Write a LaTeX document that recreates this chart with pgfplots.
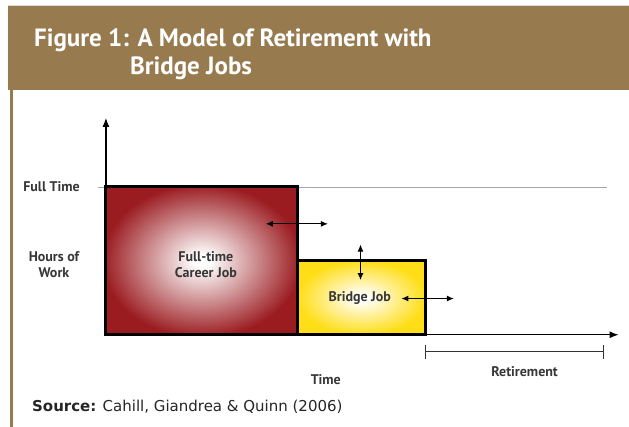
\documentclass[border=0pt]{standalone}
\usepackage{pgfplots}
\pgfplotsset{compat=1.18}
\usepackage{fontspec}
\setmainfont{PT Sans}
\newfontfamily\sourcefont{DejaVu Sans}
\usetikzlibrary{arrows.meta}

\definecolor{band}{RGB}{151,123,79}
\definecolor{career}{RGB}{154,27,32}
\definecolor{bridge}{RGB}{255,222,23}
\definecolor{ink}{RGB}{55,55,55}

% white glow in the middle of each job block
\pgfdeclareradialshading{careerglow}{\pgfpoint{0bp}{0bp}}{color(0bp)=(white); color(2bp)=(white); color(26bp)=(career); color(50bp)=(career)}
\pgfdeclareradialshading{bridgeglow}{\pgfpoint{0bp}{0bp}}{color(0bp)=(white); color(2bp)=(white); color(25bp)=(bridge); color(50bp)=(bridge)}

\begin{document}
\begin{tikzpicture}[x=1pt,y=1pt]
% frame: header band and left rule
\fill[white] (0,0) rectangle (629,427);
\fill[band] (8,337) rectangle (629,421);
\draw[gray!30, line width=0.8pt] (8,422) -- (629,422);
\fill[band] (10.5,0) rectangle (13.5,337);
\node[anchor=base west, text=white, inner sep=0pt, font=\bfseries\fontsize{25}{30}\selectfont] at (34,380) {Figure 1: A Model of Retirement with};
\node[anchor=base west, text=white, inner sep=0pt, font=\bfseries\fontsize{25}{30}\selectfont] at (130,352) {Bridge Jobs};

\begin{axis}[
    at={(106pt,92pt)}, anchor=south west,
    scale only axis, width=513pt, height=217pt,
    xmin=0, xmax=8.0156, ymin=0, ymax=1.466,
    axis lines=left,
    axis line style={line width=1.2pt, -{Latex[length=9pt,width=7pt]}},
    xtick=\empty, ytick=\empty,
    clip=false,
]
% full-time reference line
\addplot[gray!70, line width=0.6pt] coordinates {(-0.125,1) (7.84,1)};

% career job: full hours until t=3
\addplot[draw=black, line width=3pt, line join=miter, shade, shading=careerglow]
    coordinates {(0,0) (0,1) (3,1) (3,0)} \closedcycle;
% bridge job: half hours from t=3 to t=5
\addplot[draw=black, line width=3pt, line join=miter, shade, shading=bridgeglow]
    coordinates {(3,0) (3,0.5) (5,0.5) (5,0)} \closedcycle;

% flexibility arrows
\draw[{Latex[length=7pt,width=6pt]}-{Latex[length=7pt,width=6pt]}, line width=1pt]
    (axis cs:2.5,0.75) -- (axis cs:3.47,0.75);
\draw[{Latex[length=7pt,width=6pt]}-{Latex[length=7pt,width=6pt]}, line width=1pt]
    (axis cs:3.98,0.61) -- (axis cs:3.98,0.37);
\draw[{Latex[length=7pt,width=6pt]}-{Latex[length=7pt,width=6pt]}, line width=1pt]
    (axis cs:4.62,0.245) -- (axis cs:5.44,0.245);

% retirement span
\draw[line width=0.8pt, black!80] (axis cs:5,-0.113) -- (axis cs:7.77,-0.113);
\draw[line width=0.8pt, black!80] (axis cs:5,-0.068) -- (axis cs:5,-0.162);
\draw[line width=0.8pt, black!80] (axis cs:7.77,-0.068) -- (axis cs:7.77,-0.162);
\end{axis}

\begin{scope}[every node/.style={text=ink, font=\bfseries\fontsize{14}{16.5}\selectfont, align=center, inner sep=0pt}]
\node[anchor=east] at (80,240) {Full Time};
\node at (54,162) {Hours of\\Work};
\node at (206,162) {Full-time\\Career Job};
\node at (360,129) {Bridge Job};
\node at (326,47) {Time};
\node at (525,55) {Retirement};
\end{scope}
\node[anchor=base west, inner sep=0pt, text=black!85, font=\sourcefont\fontsize{15}{18}\selectfont] at (32,15) {\textbf{Source:} Cahill, Giandrea \& Quinn (2006)};
\end{tikzpicture}
\end{document}
